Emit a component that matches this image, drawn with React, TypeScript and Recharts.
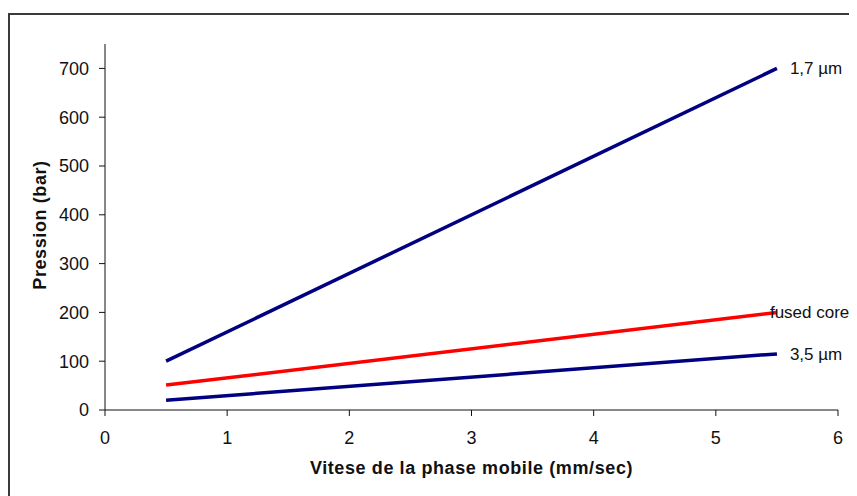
import React from 'react';
import { LineChart, Line, XAxis, YAxis, Label } from 'recharts';

// vitesse (mm/sec) and pression (bar) per column type
const speeds = [0.5, 5.5];
const pressure17 = [100, 700];
const pressureFused = [51, 200];
const pressure35 = [20, 115];

const xTicks = [0, 1, 2, 3, 4, 5, 6];
const yTicks = [0, 100, 200, 300, 400, 500, 600, 700];

const data = speeds.map((s, i) => ({
  speed: s,
  p17: pressure17[i],
  fused: pressureFused[i],
  p35: pressure35[i],
}));

const FONT = '"Liberation Sans", Arial, sans-serif';

const endLabel = (text: string, dx: number) => (props: any) => {
  const { x, y, index } = props;
  if (index !== data.length - 1) return <g />;
  return (
    <text x={x + dx} y={y} dy={6} fontSize={17} fontFamily={FONT} fill="#111">
      {text}
    </text>
  );
};

const XTitle = (props: any) => {
  const vb = props.viewBox || { x: 97, y: 402, width: 733 };
  return (
    <text
      x={vb.x + vb.width / 2}
      y={vb.y + 64}
      textAnchor="middle"
      fontSize={18}
      fontWeight="bold"
      fontFamily={FONT}
      fill="#111"
      letterSpacing={0.6}
    >
      Vitese de la phase mobile (mm/sec)
    </text>
  );
};

const YTitle = (props: any) => {
  const vb = props.viewBox || { x: 0, y: 36, height: 366 };
  const cx = 38;
  const cy = vb.y + vb.height / 2 - 2;
  return (
    <text
      x={cx}
      y={cy}
      transform={`rotate(-90 ${cx} ${cy})`}
      textAnchor="middle"
      fontSize={18}
      fontWeight="bold"
      fontFamily={FONT}
      fill="#111"
      letterSpacing={0.6}
    >
      Pression (bar)
    </text>
  );
};

const tickStyle = { fontSize: 18, fontFamily: FONT, fill: '#111' };

export default function App() {
  return (
    <div style={{ position: 'relative', width: 849, height: 488, overflow: 'hidden', background: '#fff' }}>
      <div
        style={{
          position: 'absolute',
          left: 0,
          top: 5,
          width: 900,
          height: 600,
          border: '2px solid #3a3a3a',
          boxSizing: 'border-box',
        }}
      />
      <div style={{ position: 'absolute', left: 0, top: 0 }}>
        <LineChart width={849} height={488} data={data} margin={{ top: 36, right: 19, left: 0, bottom: 0 }}>
          <XAxis
            dataKey="speed"
            type="number"
            domain={[0, 6]}
            ticks={xTicks}
            interval={0}
            height={86}
            tickSize={6}
            tickMargin={15}
            stroke="#111"
            tick={tickStyle}
          >
            <Label content={<XTitle />} />
          </XAxis>
          <YAxis
            type="number"
            domain={[0, 750]}
            ticks={yTicks}
            interval={0}
            width={97}
            tickSize={6}
            tickMargin={10}
            stroke="#111"
            tick={tickStyle}
          >
            <Label content={<YTitle />} />
          </YAxis>
          <Line
            dataKey="p17"
            stroke="#000080"
            strokeWidth={3.5}
            dot={false}
            isAnimationActive={false}
            label={endLabel('1,7 µm', 13)}
          />
          <Line
            dataKey="fused"
            stroke="#ff0000"
            strokeWidth={3.5}
            dot={false}
            isAnimationActive={false}
            label={endLabel('fused core', -7)}
          />
          <Line
            dataKey="p35"
            stroke="#000080"
            strokeWidth={3.5}
            dot={false}
            isAnimationActive={false}
            label={endLabel('3,5 µm', 13)}
          />
        </LineChart>
      </div>
    </div>
  );
}
